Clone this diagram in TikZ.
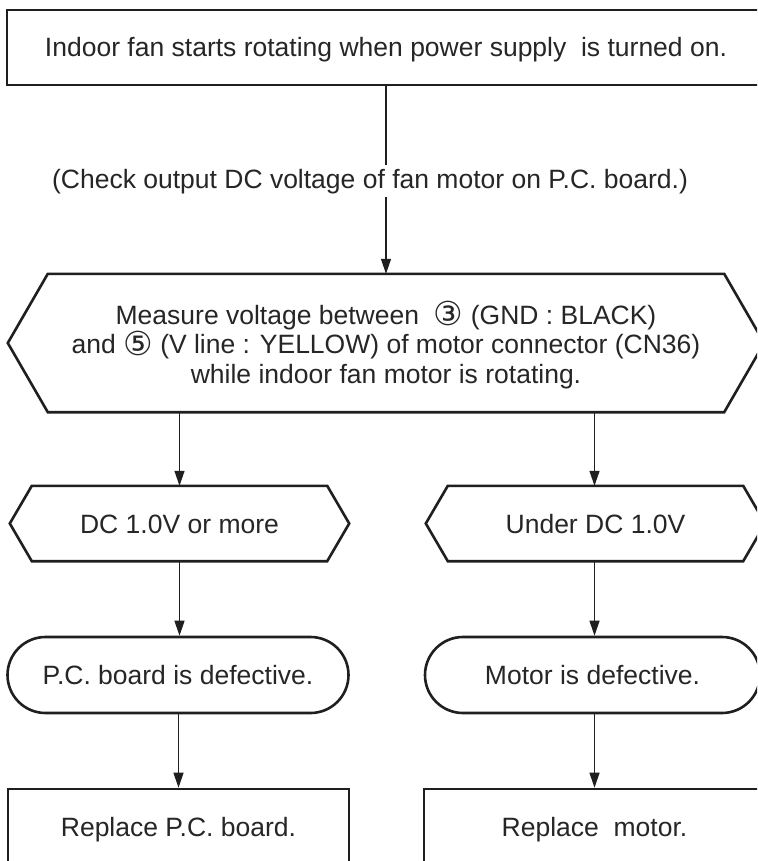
\documentclass[tikz,border=0pt]{standalone}
\usepackage{fontspec}
\setmainfont{Liberation Sans}
\newfontfamily\symfont{DejaVu Sans}
\newcommand{\circnum}[1]{{\symfont\fontsize{33}{33}\selectfont\raisebox{-1.5pt}{#1}}}
\usetikzlibrary{shapes.misc,arrows.meta}
\begin{document}
\begin{tikzpicture}[x=1pt,y=-1pt,
  txt/.style={font=\fontsize{26.5}{29.5}\selectfont, text=black!85},
  oneline/.style={text height=19pt, text depth=0pt},
  boxline/.style={line width=2.6pt, draw=black!88, line join=miter},
  rectbox/.style={txt, oneline, boxline, rectangle, draw, inner sep=0pt},
  innerbox/.style={txt, rectangle, inner sep=0pt, draw=none},
  termbox/.style={txt, oneline, boxline, rounded rectangle, draw, inner sep=0pt, minimum height=76pt},
  conn/.style={line width=1.3pt, draw=black!88, -{Triangle[length=15pt,width=10pt]}}
]
\useasboundingbox (0,0) rectangle (757,861);
\clip (0,0) rectangle (757,861);
\fill[white] (0,0) rectangle (757,861);

% nodes
\node[rectbox, minimum width=758pt, minimum height=75pt] (start) at (386,47.5)
  {Indoor fan starts rotating when power supply\ \ is turned on.};

\node[innerbox, minimum width=676pt, minimum height=138pt, align=center] (meas) at (386,345)
  {Measure voltage between\ \ \circnum{③} (GND : BLACK)\\
   and \circnum{⑤} (V line : YELLOW) of motor connector (CN36)\\
   while indoor fan motor is rotating.};
\draw[boxline] ([yshift=2pt]meas.north west) -- ([yshift=2pt]meas.north east) -- ([xshift=40pt,yshift=2pt]meas.east)
  -- ([yshift=2pt]meas.south east) -- ([yshift=2pt]meas.south west) -- ([xshift=-40pt,yshift=2pt]meas.west) -- cycle;

\node[innerbox, oneline, minimum width=295pt, minimum height=75pt] (dc1) at (179.5,523.5) {DC 1.0V or more};
\draw[boxline] (dc1.north west) -- (dc1.north east) -- ([xshift=22pt]dc1.east)
  -- (dc1.south east) -- (dc1.south west) -- ([xshift=-22pt]dc1.west) -- cycle;

\node[innerbox, oneline, minimum width=295pt, minimum height=75pt] (dc2) at (595.5,523.5) {Under DC 1.0V};
\draw[boxline] (dc2.north west) -- (dc2.north east) -- ([xshift=22pt]dc2.east)
  -- (dc2.south east) -- (dc2.south west) -- ([xshift=-22pt]dc2.west) -- cycle;

\node[termbox, minimum width=341pt] (pcb) at (178,675) {P.C. board is defective.};
\node[termbox, minimum width=335pt] (mot) at (592.5,675) {Motor is defective.};

\node[rectbox, minimum width=341pt, minimum height=75pt] (rpcb) at (178.5,826.5) {Replace P.C. board.};
\node[rectbox, minimum width=341pt, minimum height=75pt] (rmot) at (594.5,826.5) {Replace\ \ motor.};

% connectors
\draw[conn] (start.south) -- ([yshift=2pt]meas.north);
\node[txt, fill=white, inner xsep=2pt, inner ysep=4pt, anchor=base] (chk) at (370,188)
  {(Check output DC voltage of fan motor on P.C. board.)};
\draw[conn] ([yshift=2pt]meas.south -| dc1.north) -- (dc1.north);
\draw[conn] ([yshift=2pt]meas.south -| rmot.north) -- (dc2.north -| rmot.north);
\draw[conn] (dc1.south) -- (pcb.north -| dc1.south);
\draw[conn] (dc2.south -| rmot.north) -- (mot.north -| rmot.north);
\draw[conn] (pcb.south -| rpcb.north) -- (rpcb.north);
\draw[conn] (mot.south -| rmot.north) -- (rmot.north);
\end{tikzpicture}
\end{document}
